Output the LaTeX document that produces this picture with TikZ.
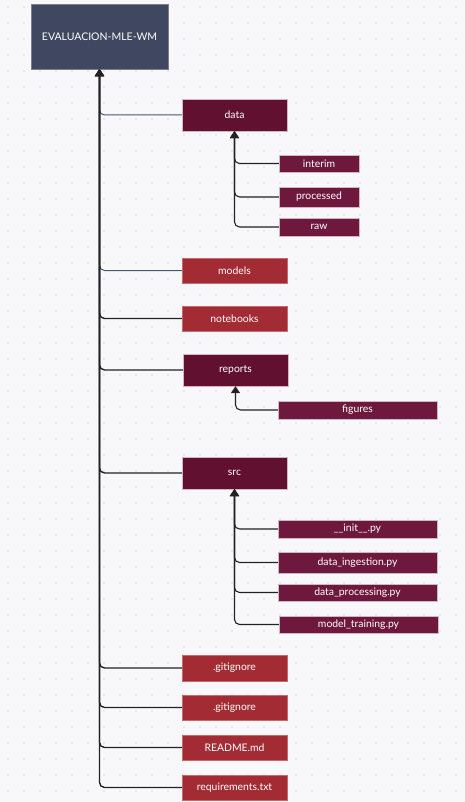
\documentclass[tikz,border=0pt]{standalone}
\usepackage{fontspec}
\setmainfont{Lato}
\usepackage{xcolor}
\definecolor{bgc}{HTML}{F8F8FB}
\definecolor{dotc}{HTML}{D9D9E2}
\definecolor{rootc}{HTML}{3F4860}
\definecolor{dirc}{HTML}{611030}
\definecolor{subc}{HTML}{6E183D}
\definecolor{filec}{HTML}{A32B34}
\definecolor{linec}{HTML}{222222}
\definecolor{slatec}{HTML}{4A5670}
\usetikzlibrary{arrows.meta}
\tikzset{
  >={Triangle[width=9pt,length=7pt]},
  box/.style={draw=white!70!dirc,line width=0.4pt,inner sep=0pt,text=white,font=\fontsize{10.4}{12}\selectfont,align=center},
  rootbox/.style={box,fill=rootc,draw=rootc!70!white,minimum width=137,minimum height=65,font=\fontsize{10.5}{12}\selectfont},
  dirbox/.style={box,fill=dirc,minimum width=105,minimum height=32},
  subbox/.style={box,fill=subc,minimum width=80},
  wsubbox/.style={box,fill=subc,minimum width=159},
  filebox/.style={box,fill=filec,draw=filec!70!white,minimum width=105,minimum height=25},
  arr/.style={->,draw=linec,line width=1.4pt,rounded corners=5pt},
  sarr/.style={arr,draw=slatec,line width=1pt},
}

\begin{document}
\begin{tikzpicture}[x=1pt,y=-1pt]
\fill[bgc] (0,0) rectangle (465,802);
\useasboundingbox (0,0) rectangle (465,802);
\foreach \x in {8,24,...,460} \foreach \y in {7,23,...,800} \fill[dotc] (\x,\y) circle (0.8);
% root
\node[rootbox] (root) at (99.5,36.5) {EVALUACION-MLE-WM};
% top level folders
\node[dirbox] (data) at (234.5,115) {data};
\node[subbox,minimum height=17] (interim) at (319,163.5) {interim};
\node[subbox,minimum height=20] (processed) at (319,197) {processed};
\node[subbox,minimum height=18] (raw) at (319,227) {raw};
\node[filebox] (models) at (234.5,270.5) {models};
\node[filebox] (notebooks) at (234.5,318.5) {notebooks};
\node[dirbox] (reports) at (235.5,370) {reports};
\node[wsubbox,minimum height=18] (figures) at (357.5,410) {figures};
\node[dirbox] (src) at (234.5,473) {src};
\node[wsubbox,minimum height=18] (init) at (357.5,529) {\_\_init\_\_.py};
\node[wsubbox,minimum height=21] (ingest) at (357.5,562.5) {data\_ingestion.py};
\node[wsubbox,minimum height=17] (process) at (357.5,592.5) {data\_processing.py};
\node[wsubbox,minimum height=17] (train) at (358.5,624.5) {model\_training.py};
% files
\node[filebox,minimum height=26] (git1) at (234.5,668) {.gitignore};
\node[filebox] (git2) at (234.5,707.5) {.gitignore};
\node[filebox] (readme) at (234.5,747.5) {README.md};
\node[filebox] (reqs) at (234.5,787.5) {requirements.txt};
% connectors
\draw[sarr] (data.west) -| (root.south);
\draw[sarr] (models.west) -| (root.south);
\foreach \n in {notebooks,reports,src,git1,git2,readme,reqs}
  \draw[arr] (\n.west) -| (root.south);
\foreach \n in {interim,processed,raw}
  \draw[arr,line width=1.1pt] (\n.west) -| (data.south);
\draw[arr,line width=1.1pt] (figures.west) -| (reports.south);
\foreach \n in {init,ingest,process,train}
  \draw[arr,line width=1.1pt] (\n.west) -| (src.south);
\end{tikzpicture}
\end{document}
